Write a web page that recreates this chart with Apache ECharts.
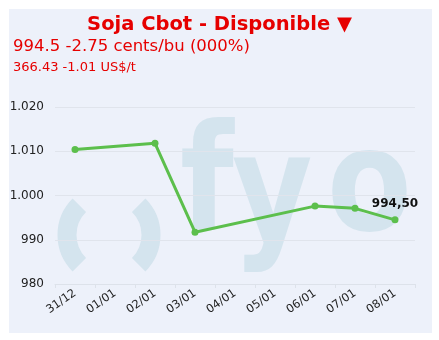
<!DOCTYPE html>
<html>
<head>
<meta charset="utf-8">
<script src="https://cdn.jsdelivr.net/npm/echarts@6/dist/echarts.min.js"></script>
<style>
html,body{margin:0;padding:0;background:#fff;}
#c{width:439px;height:340px;}
</style>
</head>
<body>
<div id="c"></div>
<script>
var categories = ['31/12','01/01','02/01','03/01','04/01','05/01','06/01','07/01','08/01'];
var prices = [1010.4, null, 1011.8, 991.7, null, null, 997.6, 997.1, 994.5];
var yTicks = [980, 990, 1000, 1010, 1020];
var titleText = 'Soja Cbot - Disponible \u25BC';
var line1 = '994.5 -2.75 cents/bu (000%)';
var line2 = '366.43 -1.01 US$/t';
var lastLabel = '994,50';

var chart = echarts.init(document.getElementById('c'), null, {renderer:'canvas'});
var red = '#e60000';
var wm = '#d4e4ee';
var F = 'DejaVu Sans, Verdana, sans-serif';
function fmt(v){ return v >= 1000 ? Math.floor(v/1000) + '.' + String(v%1000).padStart(3,'0') : String(v); }
var lastIdx = prices.length - 1;
function wmLetter(ch, x, sy, oy){
  return {type:'text', z:-5, x:x, y:oy, scaleX:0.87, scaleY:sy, silent:true,
    style:{text:ch, x:0, y:-115, verticalAlign:'top', align:'left', font:'bold 142px DejaVu Sans', fill:wm}};
}
chart.setOption({
  animation:false,
  backgroundColor:'#ffffff',
  graphic:[
    {type:'rect', z:-10, shape:{x:9,y:9,width:423,height:324}, style:{fill:'#edf1fa'}, silent:true},
    {type:'arc', z:-5, shape:{cx:109,cy:235,r:42,startAngle:Math.PI*0.75,endAngle:Math.PI*1.25}, style:{stroke:wm,lineWidth:19,fill:null}, silent:true},
    {type:'arc', z:-5, shape:{cx:109,cy:235,r:42,startAngle:-Math.PI*0.25,endAngle:Math.PI*0.25}, style:{stroke:wm,lineWidth:19,fill:null}, silent:true},
    wmLetter('f', 180, 1.04, 237),
    wmLetter('y', 232, 1.05, 247),
    wmLetter('o', 327, 1, 237),
    {type:'text', left:'center', top:15, style:{text:titleText, font:'bold 19.5px '+F, fill:red}},
    {type:'text', left:13, top:38, style:{text:line1, font:'16.5px '+F, fill:red}},
    {type:'text', left:13, top:61, style:{text:line2, font:'13px '+F, fill:red}}
  ],
  grid:{left:55, right:24, top:107, bottom:56, containLabel:false},
  xAxis:{
    type:'category', data:categories, boundaryGap:true,
    axisLine:{show:true, lineStyle:{color:'#dde2ea'}},
    axisTick:{show:true, length:4, lineStyle:{color:'#dde2ea'}},
    axisLabel:{rotate:35, fontSize:11.5, fontFamily:F, color:'#222', margin:8, interval:0},
    splitLine:{show:false}
  },
  yAxis:{
    type:'value', min:yTicks[0], max:yTicks[yTicks.length-1], interval:10,
    axisLine:{show:false}, axisTick:{show:false},
    axisLabel:{fontSize:12, fontFamily:F, color:'#222', margin:11, formatter:fmt},
    splitLine:{lineStyle:{color:'#e0e4ec'}}
  },
  series:[{
    type:'line', data:prices.map(function(v,i){
      if(i===lastIdx){ return {value:v, label:{show:true, position:'top', distance:6, formatter:lastLabel, fontFamily:F, fontSize:12, fontWeight:'bold', color:'#111'}}; }
      return v;
    }),
    connectNulls:true,
    symbol:'circle', symbolSize:7,
    lineStyle:{color:'#5cbf4c', width:3},
    itemStyle:{color:'#5cbf4c'}
  }]
});
</script>
</body>
</html>
